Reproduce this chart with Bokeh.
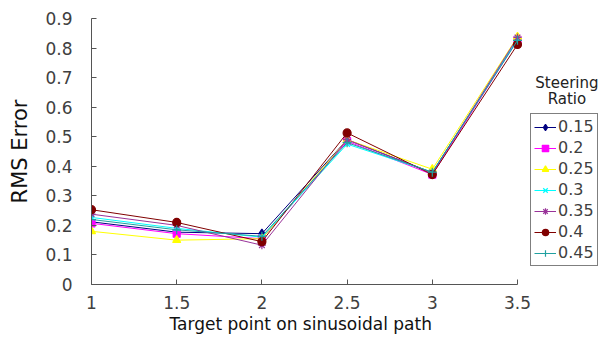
from bokeh.plotting import figure
from bokeh.models import Legend, LegendItem, Label, Range1d, FixedTicker, Title
from bokeh.embed import file_html
from bokeh.resources import INLINE

x_vals = [1, 1.5, 2, 2.5, 3, 3.5]
ratios = ["0.15", "0.2", "0.25", "0.3", "0.35", "0.4", "0.45"]
s015 = [0.212, 0.177, 0.172, 0.490, 0.378, 0.830]
s020 = [0.207, 0.172, 0.155, 0.485, 0.372, 0.828]
s025 = [0.180, 0.150, 0.155, 0.490, 0.390, 0.838]
s030 = [0.227, 0.190, 0.160, 0.475, 0.380, 0.830]
s035 = [0.238, 0.200, 0.133, 0.490, 0.378, 0.836]
s040 = [0.253, 0.210, 0.145, 0.513, 0.372, 0.812]
s045 = [0.220, 0.185, 0.163, 0.480, 0.380, 0.826]
series = [s015, s020, s025, s030, s035, s040, s045]
colors = ["#000080", "#FF00FF", "#FFFF00", "#00FFFF", "#993399", "#800000", "#20A0A0"]
markers = ["diamond", "square", "triangle", "x", "asterisk", "circle", "cross"]
sizes = [9, 7, 8, 8, 8, 8, 9]

y_ticks = [0, 0.1, 0.2, 0.3, 0.4, 0.5, 0.6, 0.7, 0.8, 0.9]
x_ticks = [1, 1.5, 2, 2.5, 3, 3.5]

FONT = "DejaVu Sans"

# frame runs from x=91 to the right edge (598); the axis itself stops at 3.5 (x=517)
x_end = 1 + 2.5 * (598 - 91) / (517 - 91)

p = figure(width=598, height=334, output_backend="svg", toolbar_location=None,
           x_range=Range1d(1, x_end), y_range=Range1d(0, 0.9),
           min_border_left=91, min_border_right=0, min_border_top=18, min_border_bottom=50)
p.outline_line_color = None
p.xgrid.visible = False
p.ygrid.visible = False

items = []
for lab, ys, c, m, s in zip(ratios, series, colors, markers, sizes):
    r1 = p.line(x_vals, ys, line_color=c, line_width=1.0)
    r2 = p.scatter(x_vals, ys, marker=m, size=s, line_color=c, fill_color=c, line_width=1.2)
    items.append(LegendItem(label=lab, renderers=[r1, r2]))

for ax in (p.xaxis[0], p.yaxis[0]):
    ax.axis_line_color = "#555555"
    ax.major_tick_line_color = "#555555"
    ax.major_tick_in = 5
    ax.major_tick_out = 0
    ax.minor_tick_line_color = None
    ax.major_label_text_font = FONT
    ax.major_label_text_font_size = "17px"
    ax.major_label_text_color = "#404040"
    ax.axis_label_text_font = FONT
    ax.axis_label_text_font_style = "normal"
    ax.axis_label_text_color = "#111111"

p.xaxis.bounds = (x_ticks[0], x_ticks[-1])
p.xaxis.ticker = FixedTicker(ticks=x_ticks)
p.yaxis.ticker = FixedTicker(ticks=y_ticks)
p.yaxis.axis_label = "RMS Error"
p.yaxis.axis_label_text_font_size = "21px"
p.yaxis.major_label_standoff = 19
p.xaxis.major_label_standoff = 11
p.yaxis.axis_label_standoff = 10

# x-axis title, centred under the drawn axis (not the full frame)
xt = Title(text="Target point on sinusoidal path", align="left", offset=78,
           text_font=FONT, text_font_size="17px", text_font_style="normal",
           text_color="#111111", standoff=0)
p.add_layout(xt, "below")

legend = Legend(items=items, location=(439, 18))
legend.label_text_font = FONT
legend.label_text_font_size = "16px"
legend.label_text_color = "#404040"
legend.glyph_width = 22
legend.glyph_height = 16
legend.label_height = 17
legend.label_width = 36
legend.spacing = 2
legend.padding = 3
legend.margin = 0
legend.label_standoff = 2
legend.border_line_color = "#000000"
legend.border_line_width = 1.2
p.add_layout(legend, "center")

p.add_layout(Label(x=3.79, y=0.683, text="Steering", text_align="center", text_baseline="middle",
                   text_font=FONT, text_font_size="15px", text_color="#222222"))
p.add_layout(Label(x=3.79, y=0.626, text="Ratio", text_align="center", text_baseline="middle",
                   text_font=FONT, text_font_size="15px", text_color="#222222"))

open("out.html", "w").write(file_html(p, INLINE))
